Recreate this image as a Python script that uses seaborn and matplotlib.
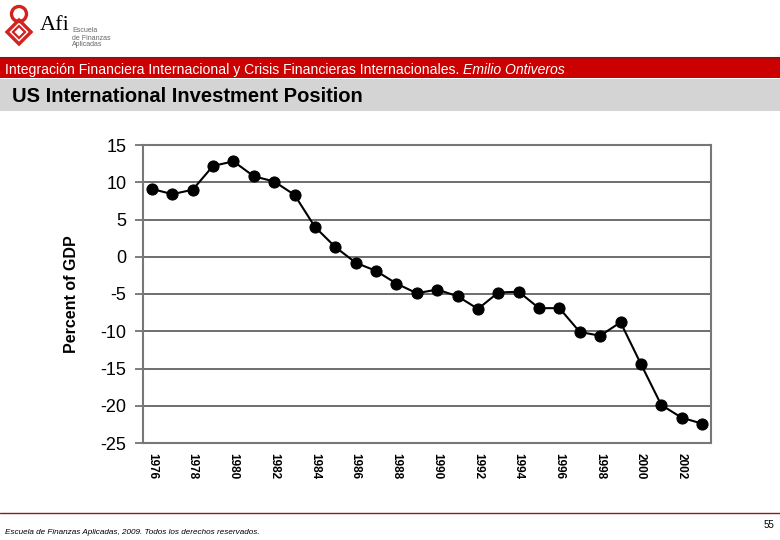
import matplotlib
matplotlib.use("Agg")
import matplotlib.pyplot as plt
import matplotlib.patches as mpatches
from matplotlib.lines import Line2D
import seaborn as sns
import pandas as pd

# ---- data ----
years = list(range(1976, 2004))
percent_of_gdp = [9.1, 8.4, 9.0, 12.2, 12.8, 10.8, 10.1, 8.3, 4.0, 1.3,
                  -0.8, -1.9, -3.6, -4.9, -4.4, -5.3, -7.0, -4.8, -4.7, -6.9,
                  -6.9, -10.1, -10.6, -8.8, -14.4, -19.9, -21.6, -22.4]
y_ticks = [15, 10, 5, 0, -5, -10, -15, -20, -25]
x_ticks = list(range(1976, 2003, 2))

header_text = "Integración Financiera Internacional y Crisis Financieras Internacionales. "
header_author = "Emilio Ontiveros"
title_text = "US International Investment Position"
y_label = "Percent of GDP"
footer_text = "Escuela de Finanzas Aplicadas, 2009. Todos los derechos reservados."
page_number = "55"

df = pd.DataFrame({"year": years, "value": percent_of_gdp})

sns.set_theme(style="white")
plt.rcParams["font.family"] = ["Liberation Sans", "DejaVu Sans"]

W, H = 780, 540
fig = plt.figure(figsize=(W / 100, H / 100), dpi=100)
fig.patch.set_facecolor("white")

def fx(px):
    return px / W

def fy(py):
    return 1 - py / H

# ---- header decorations ----
fig.add_artist(mpatches.Rectangle((0, fy(78)), 1, (78 - 57) / H, transform=fig.transFigure,
                                  facecolor="#CC0000", edgecolor="none"))
fig.add_artist(Line2D([0, 1], [fy(57.5), fy(57.5)], transform=fig.transFigure,
                      color="#9E0B0B", linewidth=1.5))
fig.add_artist(mpatches.Rectangle((0, fy(111)), 1, (111 - 79) / H, transform=fig.transFigure,
                                  facecolor="#D4D4D4", edgecolor="none"))

t1 = fig.text(fx(5), fy(70), header_text, color="white", fontsize=10.1,
              family=["Liberation Sans Narrow", "Liberation Sans", "DejaVu Sans"],
              ha="left", va="center")
fig.canvas.draw()
bb = t1.get_window_extent()
fig.text(bb.x1 / W, fy(70), header_author, color="white", fontsize=10.1, style="italic",
         family=["Liberation Sans Narrow", "Liberation Sans", "DejaVu Sans"],
         ha="left", va="center")

fig.text(fx(12), fy(96.5), title_text, color="black", fontsize=14.5, weight="bold",
         ha="left", va="center")

# logo (approximation) drawn in a small pixel-based axes
lax = fig.add_axes([fx(3), fy(48), 34 / W, 46 / H])
lax.set_xlim(3, 37)
lax.set_ylim(48, 2)
lax.set_aspect("equal")
lax.axis("off")
logo_red = "#D2231F"
lax.add_patch(mpatches.Ellipse((19, 14), 15, 15, facecolor="none", edgecolor=logo_red,
                               linewidth=2.4))
lax.add_patch(mpatches.Polygon([(19, 20), (31, 32), (19, 44), (7, 32)], closed=True,
                               facecolor="none", edgecolor=logo_red, linewidth=2.4))
lax.add_patch(mpatches.Polygon([(19, 26), (25, 32), (19, 38), (13, 32)], closed=True,
                               facecolor="none", edgecolor=logo_red, linewidth=1.6))

fig.text(fx(40), fy(26), "Afi", family=["Liberation Serif", "DejaVu Serif"], fontsize=16,
         color="black", ha="left", va="center")
for i, line in enumerate(["Escuela", "de Finanzas", "Aplicadas"]):
    fig.text(fx(72), fy(31 + 7 * i), line, fontsize=5, color="#666666", ha="left", va="center")

# footer
fig.add_artist(Line2D([0, 1], [fy(513), fy(513)], transform=fig.transFigure,
                      color="#8B1A1A", linewidth=1.0))
fig.text(fx(5), fy(533), footer_text, fontsize=5.9, style="italic", color="black",
         ha="left", va="center")
fig.text(fx(774), fy(525), page_number, fontsize=7, color="black", ha="right", va="center")

# ---- chart ----
ax_left, ax_right, ax_top, ax_bottom = 143, 711, 145, 443
ax = fig.add_axes([fx(ax_left), fy(ax_bottom), (ax_right - ax_left) / W, (ax_bottom - ax_top) / H])
ax.set_facecolor("white")

sns.lineplot(data=df, x="year", y="value", ax=ax, color="black", linewidth=1.5,
             marker="o", markersize=8, markeredgecolor="black", markerfacecolor="black")

ax.set_ylim(-25, 15)
ax.set_xlim(1975.56, 2003.44)
ax.set_yticks(y_ticks)
ax.set_yticklabels([str(v) for v in y_ticks], fontsize=13, color="black")
ax.set_xticks(x_ticks)
ax.set_xticklabels([str(v) for v in x_ticks], rotation=-90, fontsize=8.5, weight="bold",
                   color="black")
ax.tick_params(axis="y", which="major", length=6, width=1.2, color="#666666", pad=6, left=True)
ax.tick_params(axis="x", which="major", length=0, pad=7)
ax.grid(axis="y", color="#555555", linewidth=1.2)
ax.grid(axis="x", visible=False)
ax.set_axisbelow(True)
for side in ["left", "right", "bottom", "top"]:
    ax.spines[side].set_visible(True)
    ax.spines[side].set_color("#777777")
    ax.spines[side].set_linewidth(1.5)

ax.set_xlabel("")
ax.set_ylabel(y_label, fontsize=11.5, weight="bold", color="black")
ax.yaxis.set_label_coords(-0.112, 0.5)

fig.savefig("out.png", dpi=100, facecolor="white")
